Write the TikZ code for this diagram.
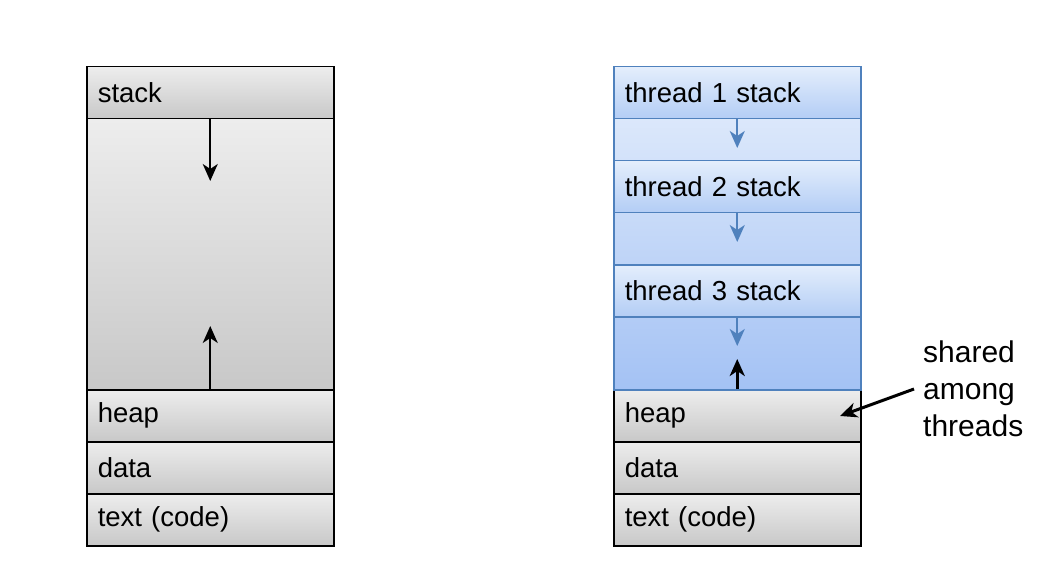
\documentclass[tikz,border=0pt]{standalone}
\usepackage{fontspec}
\setmainfont{Liberation Sans}
\usetikzlibrary{arrows.meta}

\definecolor{segtop}{HTML}{EDEDED}
\definecolor{segbot}{HTML}{C8C8C8}
\definecolor{bluetop}{HTML}{E4EEFC}
\definecolor{bluebot}{HTML}{B3CDF5}
\definecolor{gaptop}{HTML}{E6EFFC}
\definecolor{gapbot}{HTML}{A4C2F4}
\definecolor{blueline}{HTML}{4F81BD}

\tikzset{
  seg/.style={draw=black, line width=1.5pt, top color=segtop, bottom color=segbot,
    anchor=north west, text width=225pt, inner sep=11pt, minimum height=52pt,
    align=left, font=\fontsize{27.5}{33}\selectfont},
  tstack/.style={seg, draw=blueline, top color=bluetop, bottom color=bluebot},
  growarrow/.style={-{Stealth[length=17pt,width=15pt,inset=5pt]}, line width=2pt},
  tgrowarrow/.style={growarrow, draw=blueline, fill=blueline},
}

\begin{document}
\begin{tikzpicture}[x=1pt, y=1pt]
    \useasboundingbox (0,0) rectangle (1063,574);
    % single-threaded address space
    \node[seg, minimum height=271pt] (lfree) at (86,456) {};
    \node[seg] (lstack) at (86,508) {stack};
    \node[seg] (lheap) at (86,185) {heap};
    \node[seg] (ldata) at (86,133) {data};
    \node[seg] (ltext) at (86,81) {text (code)};
    \coordinate (ldown) at (lstack.south |- 0,393);
    \coordinate (lup) at (lheap.north |- 0,248);
    \draw[growarrow] (lstack.south) -- (ldown);
    \draw[growarrow] (lheap.north) -- (lup);

    % multi-threaded address space
    \node[seg] (rheap) at (613,185) {heap};
    \node[seg] (rdata) at (613,133) {data};
    \node[seg] (rtext) at (613,81) {text (code)};
    \node[seg, draw=blueline, top color=gaptop, bottom color=gapbot, minimum height=323pt] (rfree) at (613,508) {};
    \node[tstack] (tone) at (613,508) {thread 1 stack};
    \node[tstack] (ttwo) at (613,414) {thread 2 stack};
    \node[tstack] (tthree) at (613,310) {thread 3 stack};
    \coordinate (onedown) at (tone.south |- 0,426);
    \coordinate (twodown) at (ttwo.south |- 0,332);
    \coordinate (threedown) at (tthree.south |- 0,228);
    \coordinate (rup) at (rheap.north |- 0,215);
    \draw[tgrowarrow] (tone.south) -- (onedown);
    \draw[tgrowarrow] (ttwo.south) -- (twodown);
    \draw[tgrowarrow] (tthree.south) -- (threedown);
    \draw[growarrow, line width=3pt] (rheap.north) -- (rup);

    % note on the shared heap
    \node[anchor=west, inner sep=9pt, align=left, font=\fontsize{30}{37}\selectfont] (note) at (914,185) {shared\\among\\threads};
    \coordinate (shared) at (840,158);
    \draw[growarrow, line width=3pt] (note.west) -- (shared);
\end{tikzpicture}
\end{document}
